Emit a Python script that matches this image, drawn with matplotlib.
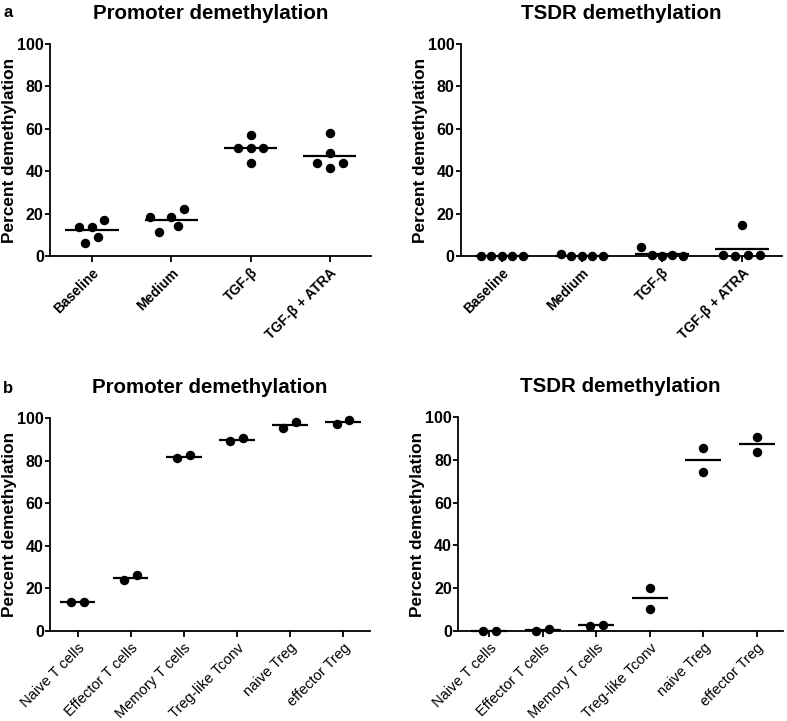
import matplotlib
matplotlib.use("Agg")
import matplotlib.pyplot as plt
import matplotlib.transforms as mtransforms
import numpy as np

plt.rcParams['font.family'] = ['Liberation Sans', 'DejaVu Sans']

# ---- data ----
cond_a = ['Baseline', 'Medium', 'TGF-β', 'TGF-β + ATRA']
prom_a = [[13.8, 6.3, 13.8, 9.1, 17.2],
          [18.5, 11.3, 18.5, 14.1, 22.1],
          [50.9, 57.1, 44.0, 50.9, 50.9],
          [44.0, 48.7, 57.9, 41.4, 44.0]]
tsdr_a = [[0.0, 0.0, 0.0, 0.0, 0.0],
          [0.8, 0.0, 0.0, 0.0, 0.0],
          [4.3, 0.3, 0.2, 0.3, 0.2],
          [0.3, 0.2, 14.6, 0.3, 0.3]]

cells_b = ['Naive T cells', 'Effector T cells', 'Memory T cells',
           'Treg-like Tconv', 'naive Treg', 'effector Treg']
prom_b = [[13.5, 13.7], [24.0, 26.2], [81.3, 82.4],
          [89.0, 90.8], [95.5, 98.3], [97.0, 99.1]]
tsdr_b = [[0.0, 0.2], [0.1, 1.0], [2.4, 2.8],
          [20.2, 10.5], [85.5, 74.5], [90.6, 83.8]]

# horizontal spread of the dots inside each column (layout only)
spread_prom_a = [[-0.165, -0.085, 0.0, 0.076, 0.156],
                 [-0.27, -0.16, 0.0, 0.085, 0.16],
                 [-0.158, 0.0, 0.0, 0.0, 0.158],
                 [-0.165, 0.0, 0.0, 0.0, 0.165]]
spread_tsdr_a = [[-0.26, -0.13, 0.0, 0.13, 0.26],
                 [-0.26, -0.13, 0.0, 0.13, 0.26],
                 [-0.26, -0.13, 0.0, 0.13, 0.26],
                 [-0.24, -0.09, 0.0, 0.075, 0.23]]
spread_prom_b = [[-0.12, 0.12]] * 6
spread_tsdr_b = [[-0.12, 0.12], [-0.12, 0.12], [-0.12, 0.12],
                 [0.0, 0.0], [0.0, 0.0], [0.0, 0.0]]

W, H = 787, 721
fig = plt.figure(figsize=(W / 100, H / 100), dpi=100)


def px_axes(x0, x1, ytop, ybot):
    return fig.add_axes([x0 / W, 1 - ybot / H, (x1 - x0) / W, (ybot - ytop) / H])


def draw(ax, labels, groups, spread, title, xlim, label_weight, label_size):
    for i, (vals, off) in enumerate(zip(groups, spread)):
        xs = i + np.array(off)
        ax.plot(xs, vals, 'o', color='black', markersize=5.8, clip_on=False, zorder=3)
        m = np.mean(vals)
        ax.plot([i - 0.335, i + 0.335], [m, m], color='black', lw=1.6,
                solid_capstyle='butt', clip_on=False, zorder=2)
    ax.set_xlim(*xlim)
    ax.set_ylim(0, 100)
    ax.set_yticks([0, 20, 40, 60, 80, 100])
    ax.set_xticks(range(len(labels)))
    ax.set_xticklabels(labels, rotation=45, ha='right', rotation_mode='anchor',
                       fontsize=label_size, fontweight=label_weight)
    shift = mtransforms.ScaledTranslation(3 / 72, 0, fig.dpi_scale_trans)
    for t in ax.get_xticklabels():
        t.set_transform(t.get_transform() + shift)
    for t in ax.get_yticklabels():
        t.set_fontsize(11.5)
        t.set_fontweight('bold')
    ax.spines['top'].set_visible(False)
    ax.spines['right'].set_visible(False)
    ax.spines['left'].set_linewidth(1.3)
    ax.spines['bottom'].set_linewidth(1.3)
    ax.tick_params(axis='y', length=3.5, width=1.3, pad=1)
    ax.tick_params(axis='x', length=4, width=1.3, pad=3)
    ax.set_ylabel('Percent demethylation', fontsize=12.4, fontweight='bold', labelpad=0)
    ax.set_title(title, fontsize=14.8, fontweight='bold', pad=18)


ax1 = px_axes(50, 371, 44, 256)
draw(ax1, cond_a, prom_a, spread_prom_a, 'Promoter demethylation', (-0.53, 3.52), 'bold', 10)
ax2 = px_axes(461, 782, 44, 256)
draw(ax2, cond_a, tsdr_a, spread_tsdr_a, 'TSDR demethylation', (-0.51, 3.50), 'bold', 10)
ax3 = px_axes(50, 370, 418, 631)
draw(ax3, cells_b, prom_b, spread_prom_b, 'Promoter demethylation', (-0.52, 5.51), 'normal', 10.5)
ax4 = px_axes(458, 783, 417, 631)
draw(ax4, cells_b, tsdr_b, spread_tsdr_b, 'TSDR demethylation', (-0.585, 5.49), 'normal', 10.5)

fig.text(3 / W, 1 - 17 / H, 'a', fontsize=12, fontweight='bold')
fig.text(3 / W, 1 - 393 / H, 'b', fontsize=12, fontweight='bold')

fig.savefig('out.png', dpi=100)
